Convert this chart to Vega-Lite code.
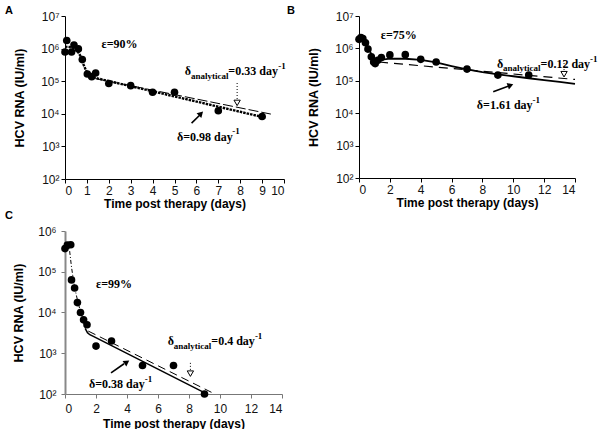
{
  "$schema": "https://vega.github.io/schema/vega-lite/v6.json",
  "padding": {"left": 5, "top": 5, "right": 0, "bottom": 0},
  "background": "white",
  "config": {
    "view": {"stroke": null},
    "axis": {"domainColor": "black", "tickColor": "black", "labelColor": "#111", "titleColor": "black", "labelFont": "Liberation Sans", "titleFont": "Liberation Sans", "grid": false, "labelFontSize": 12, "titleFontSize": 12, "titleFontWeight": "bold", "tickSize": 4, "labelPadding": 2},
    "title": {"font": "Liberation Sans", "fontSize": 11, "fontWeight": "bold", "anchor": "start", "frame": "group", "offset": 0, "color": "black"}
  },
  "datasets": {
    "obs": [
      {"panel": "A", "day": 0, "rna": 790000}, {"panel": "A", "day": 0.08, "rna": 1780000}, {"panel": "A", "day": 0.3, "rna": 790000}, {"panel": "A", "day": 0.41, "rna": 1280000}, {"panel": "A", "day": 0.61, "rna": 980000}, {"panel": "A", "day": 0.79, "rna": 460000}, {"panel": "A", "day": 1.02, "rna": 166000}, {"panel": "A", "day": 1.22, "rna": 138000}, {"panel": "A", "day": 1.4, "rna": 178000}, {"panel": "A", "day": 2, "rna": 85000}, {"panel": "A", "day": 3, "rna": 73000}, {"panel": "A", "day": 4, "rna": 46000}, {"panel": "A", "day": 5, "rna": 46000}, {"panel": "A", "day": 7, "rna": 12400}, {"panel": "A", "day": 9, "rna": 8300},
      {"panel": "B", "day": 0, "rna": 1900000}, {"panel": "B", "day": 0.12, "rna": 2150000}, {"panel": "B", "day": 0.25, "rna": 2000000}, {"panel": "B", "day": 0.42, "rna": 1500000}, {"panel": "B", "day": 0.58, "rna": 950000}, {"panel": "B", "day": 0.8, "rna": 550000}, {"panel": "B", "day": 0.95, "rna": 380000}, {"panel": "B", "day": 1.05, "rna": 340000}, {"panel": "B", "day": 1.22, "rna": 430000}, {"panel": "B", "day": 1.45, "rna": 520000}, {"panel": "B", "day": 2, "rna": 630000}, {"panel": "B", "day": 3, "rna": 640000}, {"panel": "B", "day": 4, "rna": 460000}, {"panel": "B", "day": 5, "rna": 380000}, {"panel": "B", "day": 7, "rna": 230000}, {"panel": "B", "day": 9, "rna": 150000}, {"panel": "B", "day": 11, "rna": 150000},
      {"panel": "C", "day": 0, "rna": 370000}, {"panel": "C", "day": 0.15, "rna": 450000}, {"panel": "C", "day": 0.37, "rna": 460000}, {"panel": "C", "day": 0.42, "rna": 63000}, {"panel": "C", "day": 0.62, "rna": 40000}, {"panel": "C", "day": 0.8, "rna": 17500}, {"panel": "C", "day": 1.0, "rna": 10000}, {"panel": "C", "day": 1.2, "rna": 6600}, {"panel": "C", "day": 1.42, "rna": 5000}, {"panel": "C", "day": 2, "rna": 1500}, {"panel": "C", "day": 3, "rna": 2000}, {"panel": "C", "day": 5, "rna": 500}, {"panel": "C", "day": 7, "rna": 500}, {"panel": "C", "day": 9, "rna": 100}
    ],
    "fit": [
      {"panel": "A", "curve": "model", "day": 0, "rna": 1150000}, {"panel": "A", "curve": "model", "day": 0.2, "rna": 1120000}, {"panel": "A", "curve": "model", "day": 0.4, "rna": 1050000}, {"panel": "A", "curve": "model", "day": 0.55, "rna": 900000}, {"panel": "A", "curve": "model", "day": 0.7, "rna": 600000}, {"panel": "A", "curve": "model", "day": 0.85, "rna": 320000}, {"panel": "A", "curve": "model", "day": 1.0, "rna": 185000}, {"panel": "A", "curve": "model", "day": 1.15, "rna": 145000}, {"panel": "A", "curve": "model", "day": 1.3, "rna": 130000}, {"panel": "A", "curve": "model", "day": 9.15, "rna": 7600},
      {"panel": "A", "curve": "analytical", "day": 1.4, "rna": 120000}, {"panel": "A", "curve": "analytical", "day": 9.4, "rna": 9800},
      {"panel": "B", "curve": "model", "day": 0, "rna": 2100000}, {"panel": "B", "curve": "model", "day": 0.2, "rna": 2050000}, {"panel": "B", "curve": "model", "day": 0.4, "rna": 1700000}, {"panel": "B", "curve": "model", "day": 0.6, "rna": 1100000}, {"panel": "B", "curve": "model", "day": 0.8, "rna": 650000}, {"panel": "B", "curve": "model", "day": 1.0, "rna": 450000}, {"panel": "B", "curve": "model", "day": 1.2, "rna": 420000}, {"panel": "B", "curve": "model", "day": 1.5, "rna": 450000}, {"panel": "B", "curve": "model", "day": 2, "rna": 480000}, {"panel": "B", "curve": "model", "day": 3, "rna": 480000}, {"panel": "B", "curve": "model", "day": 4, "rna": 440000}, {"panel": "B", "curve": "model", "day": 5, "rna": 370000}, {"panel": "B", "curve": "model", "day": 6, "rna": 285000}, {"panel": "B", "curve": "model", "day": 7, "rna": 225000}, {"panel": "B", "curve": "model", "day": 8, "rna": 185000}, {"panel": "B", "curve": "model", "day": 9, "rna": 158000}, {"panel": "B", "curve": "model", "day": 10, "rna": 138000}, {"panel": "B", "curve": "model", "day": 11, "rna": 120000}, {"panel": "B", "curve": "model", "day": 12, "rna": 105000}, {"panel": "B", "curve": "model", "day": 13, "rna": 92000}, {"panel": "B", "curve": "model", "day": 14, "rna": 80000},
      {"panel": "B", "curve": "analytical", "day": 1.3, "rna": 380000}, {"panel": "B", "curve": "analytical", "day": 14, "rna": 110000},
      {"panel": "C", "curve": "early", "day": 0, "rna": 460000}, {"panel": "C", "curve": "early", "day": 0.15, "rna": 460000}, {"panel": "C", "curve": "early", "day": 0.3, "rna": 320000}, {"panel": "C", "curve": "early", "day": 0.42, "rna": 130000}, {"panel": "C", "curve": "early", "day": 0.55, "rna": 60000}, {"panel": "C", "curve": "early", "day": 0.7, "rna": 30000}, {"panel": "C", "curve": "early", "day": 0.85, "rna": 17000}, {"panel": "C", "curve": "early", "day": 1.0, "rna": 10500}, {"panel": "C", "curve": "early", "day": 1.15, "rna": 7000}, {"panel": "C", "curve": "early", "day": 1.3, "rna": 4400},
      {"panel": "C", "curve": "model", "day": 1.3, "rna": 4100}, {"panel": "C", "curve": "model", "day": 1.45, "rna": 3200}, {"panel": "C", "curve": "model", "day": 1.6, "rna": 2850}, {"panel": "C", "curve": "model", "day": 1.83, "rna": 2600}, {"panel": "C", "curve": "model", "day": 9.05, "rna": 105},
      {"panel": "C", "curve": "analytical", "day": 1.5, "rna": 3500}, {"panel": "C", "curve": "analytical", "day": 9.45, "rna": 110}
    ],
    "notes": [
      {"panel": "A", "part": "main", "day": 1.67, "rna": 1340000, "text": "ε=90%"},
      {"panel": "A", "part": "main", "day": 5.47, "rna": 202000, "text": "δ"},
      {"panel": "A", "part": "sub", "day": 5.75, "rna": 147000, "text": "analytical"},
      {"panel": "A", "part": "main", "day": 7.46, "rna": 202000, "text": "=0.33 day"},
      {"panel": "A", "part": "sup", "day": 9.74, "rna": 288000, "text": "-1"},
      {"panel": "A", "part": "main", "day": 5.11, "rna": 2000, "text": "δ=0.98 day"},
      {"panel": "A", "part": "sup", "day": 7.64, "rna": 2870, "text": "-1"},
      {"panel": "B", "part": "main", "day": 1.41, "rna": 2670000, "text": "ε=75%"},
      {"panel": "B", "part": "main", "day": 8.94, "rna": 330000, "text": "δ"},
      {"panel": "B", "part": "sub", "day": 9.33, "rna": 240000, "text": "analytical"},
      {"panel": "B", "part": "main", "day": 11.77, "rna": 330000, "text": "=0.12 day"},
      {"panel": "B", "part": "sup", "day": 14.98, "rna": 470000, "text": "-1"},
      {"panel": "B", "part": "main", "day": 7.64, "rna": 17400, "text": "δ=1.61 day"},
      {"panel": "B", "part": "sup", "day": 11.25, "rna": 24800, "text": "-1"},
      {"panel": "C", "part": "main", "day": 2.0, "rna": 50700, "text": "ε=99%"},
      {"panel": "C", "part": "main", "day": 6.63, "rna": 1980, "text": "δ"},
      {"panel": "C", "part": "sub", "day": 7.02, "rna": 1540, "text": "analytical"},
      {"panel": "C", "part": "main", "day": 9.44, "rna": 1980, "text": "=0.4 day"},
      {"panel": "C", "part": "sup", "day": 12.25, "rna": 2630, "text": "-1"},
      {"panel": "C", "part": "main", "day": 1.55, "rna": 174, "text": "δ=0.38 day"},
      {"panel": "C", "part": "sup", "day": 5.14, "rna": 231, "text": "-1"}
    ],
    "shafts": [
      {"panel": "A", "kind": "solid", "day": 5.78, "rna": 5160, "day2": 6.16, "rna2": 9200},
      {"panel": "A", "kind": "open", "day": 7.86, "rna": 88000, "day2": 7.86, "rna2": 27700},
      {"panel": "B", "kind": "solid", "day": 8.7, "rna": 46300, "day2": 9.66, "rna2": 68000},
      {"panel": "B", "kind": "open", "day": 13.29, "rna": 437000, "day2": 13.29, "rna2": 213000},
      {"panel": "C", "kind": "solid", "day": 2.97, "rna": 330, "day2": 3.81, "rna2": 552},
      {"panel": "C", "kind": "open", "day": 8.09, "rna": 581, "day2": 8.09, "rna2": 385}
    ],
    "heads": [
      {"panel": "A", "kind": "solid", "day": 6.21, "rna": 10200},
      {"panel": "A", "kind": "open", "day": 7.86, "rna": 21600},
      {"panel": "B", "kind": "solid", "day": 9.82, "rna": 72800},
      {"panel": "B", "kind": "open", "day": 13.29, "rna": 160000},
      {"panel": "C", "kind": "solid", "day": 3.99, "rna": 604},
      {"panel": "C", "kind": "open", "day": 8.09, "rna": 316}
    ]
  },
  "columns": 2,
  "bounds": "flush",
  "spacing": {"column": 75, "row": 52},
  "concat": [
    {
      "title": {"text": "A", "dx": -60, "offset": -6},
      "width": 219, "height": 163,
      "encoding": {
        "x": {"field": "day", "type": "quantitative", "scale": {"domain": [0, 10], "nice": false}, "axis": {"values": [0,1,2,3,4,5,6,7,8,9,10], "title": "Time post therapy (days)", "titlePadding": 2}},
        "y": {"field": "rna", "type": "quantitative", "scale": {"type": "log", "domain": [100, 10000000], "nice": false}, "axis": {"values": [100,1000,10000,100000,1000000,10000000], "labelExpr": "'10' + ['⁰','¹','²','³','⁴','⁵','⁶','⁷'][round(log(datum.value)/LN10)]", "title": "HCV RNA (IU/ml)", "titleFontSize": 12.5, "titlePadding": 14}}
      },
      "layer": [
        {"data": {"name": "fit"}, "transform": [{"filter": "datum.panel == 'A' && datum.curve == 'model'"}], "mark": {"type": "line", "color": "black", "strokeWidth": 2.4, "strokeDash": [2.5, 1]}},
        {"data": {"name": "fit"}, "transform": [{"filter": "datum.panel == 'A' && datum.curve == 'analytical'"}], "mark": {"type": "line", "color": "black", "strokeWidth": 1, "strokeDash": [10, 3]}},
        {"data": {"name": "shafts"}, "transform": [{"filter": "datum.panel == 'A' && datum.kind == 'solid'"}], "mark": {"type": "rule", "color": "black", "strokeWidth": 1.6}, "encoding": {"x2": {"field": "day2"}, "y2": {"field": "rna2"}}},
        {"data": {"name": "shafts"}, "transform": [{"filter": "datum.panel == 'A' && datum.kind == 'open'"}], "mark": {"type": "rule", "color": "black", "strokeWidth": 1, "strokeDash": [1, 2]}, "encoding": {"x2": {"field": "day2"}, "y2": {"field": "rna2"}}},
        {"data": {"name": "heads"}, "transform": [{"filter": "datum.panel == 'A' && datum.kind == 'solid'"}], "mark": {"type": "point", "shape": "triangle-up", "angle": 45, "filled": true, "color": "black", "size": 45, "opacity": 1}},
        {"data": {"name": "heads"}, "transform": [{"filter": "datum.panel == 'A' && datum.kind == 'open'"}], "mark": {"type": "point", "shape": "triangle-down", "filled": true, "fill": "white", "stroke": "black", "strokeWidth": 1, "size": 40, "opacity": 1}},
        {"data": {"name": "obs"}, "transform": [{"filter": "datum.panel == 'A'"}], "mark": {"type": "circle", "color": "black", "size": 58, "opacity": 1}},
        {"data": {"name": "notes"}, "transform": [{"filter": "datum.panel == 'A' && datum.part == 'main'"}], "mark": {"type": "text", "align": "left", "baseline": "middle", "font": "Liberation Serif", "fontWeight": "bold", "fontSize": 12, "color": "black"}, "encoding": {"text": {"field": "text"}}},
        {"data": {"name": "notes"}, "transform": [{"filter": "datum.panel == 'A' && datum.part == 'sub'"}], "mark": {"type": "text", "align": "left", "baseline": "middle", "font": "Liberation Serif", "fontWeight": "bold", "fontSize": 9, "color": "black"}, "encoding": {"text": {"field": "text"}}},
        {"data": {"name": "notes"}, "transform": [{"filter": "datum.panel == 'A' && datum.part == 'sup'"}], "mark": {"type": "text", "align": "left", "baseline": "middle", "font": "Liberation Serif", "fontWeight": "bold", "fontSize": 9, "color": "black"}, "encoding": {"text": {"field": "text"}}}
      ]
    },
    {
      "title": {"text": "B", "dx": -72, "offset": -6},
      "width": 216, "height": 162,
      "encoding": {
        "x": {"field": "day", "type": "quantitative", "scale": {"domain": [0, 14], "nice": false}, "axis": {"values": [0,2,4,6,8,10,12,14], "title": "Time post therapy (days)", "titlePadding": 2}},
        "y": {"field": "rna", "type": "quantitative", "scale": {"type": "log", "domain": [100, 10000000], "nice": false}, "axis": {"values": [100,1000,10000,100000,1000000,10000000], "labelExpr": "'10' + ['⁰','¹','²','³','⁴','⁵','⁶','⁷'][round(log(datum.value)/LN10)]", "title": "HCV RNA (IU/ml)", "titleFontSize": 12.5, "titlePadding": 14}}
      },
      "layer": [
        {"data": {"name": "fit"}, "transform": [{"filter": "datum.panel == 'B' && datum.curve == 'model'"}], "mark": {"type": "line", "color": "black", "strokeWidth": 1.8}},
        {"data": {"name": "fit"}, "transform": [{"filter": "datum.panel == 'B' && datum.curve == 'analytical'"}], "mark": {"type": "line", "color": "black", "strokeWidth": 1.2, "strokeDash": [9, 6]}},
        {"data": {"name": "shafts"}, "transform": [{"filter": "datum.panel == 'B' && datum.kind == 'solid'"}], "mark": {"type": "rule", "color": "black", "strokeWidth": 1.6}, "encoding": {"x2": {"field": "day2"}, "y2": {"field": "rna2"}}},
        {"data": {"name": "shafts"}, "transform": [{"filter": "datum.panel == 'B' && datum.kind == 'open'"}], "mark": {"type": "rule", "color": "black", "strokeWidth": 1, "strokeDash": [1, 2]}, "encoding": {"x2": {"field": "day2"}, "y2": {"field": "rna2"}}},
        {"data": {"name": "heads"}, "transform": [{"filter": "datum.panel == 'B' && datum.kind == 'solid'"}], "mark": {"type": "point", "shape": "triangle-up", "angle": 70, "filled": true, "color": "black", "size": 45, "opacity": 1}},
        {"data": {"name": "heads"}, "transform": [{"filter": "datum.panel == 'B' && datum.kind == 'open'"}], "mark": {"type": "point", "shape": "triangle-down", "filled": true, "fill": "white", "stroke": "black", "strokeWidth": 1, "size": 40, "opacity": 1}},
        {"data": {"name": "obs"}, "transform": [{"filter": "datum.panel == 'B'"}], "mark": {"type": "circle", "color": "black", "size": 58, "opacity": 1}},
        {"data": {"name": "notes"}, "transform": [{"filter": "datum.panel == 'B' && datum.part == 'main'"}], "mark": {"type": "text", "align": "left", "baseline": "middle", "font": "Liberation Serif", "fontWeight": "bold", "fontSize": 12, "color": "black"}, "encoding": {"text": {"field": "text"}}},
        {"data": {"name": "notes"}, "transform": [{"filter": "datum.panel == 'B' && datum.part == 'sub'"}], "mark": {"type": "text", "align": "left", "baseline": "middle", "font": "Liberation Serif", "fontWeight": "bold", "fontSize": 9, "color": "black"}, "encoding": {"text": {"field": "text"}}},
        {"data": {"name": "notes"}, "transform": [{"filter": "datum.panel == 'B' && datum.part == 'sup'"}], "mark": {"type": "text", "align": "left", "baseline": "middle", "font": "Liberation Serif", "fontWeight": "bold", "fontSize": 9, "color": "black"}, "encoding": {"text": {"field": "text"}}}
      ]
    },
    {
      "title": {"text": "C", "dx": -60, "offset": 4},
      "width": 217, "height": 163,
      "encoding": {
        "x": {"field": "day", "type": "quantitative", "scale": {"domain": [0, 14], "nice": false}, "axis": {"values": [0,2,4,6,8,10,12,14], "title": "Time post therapy (days)", "titlePadding": 4, "labelPadding": 5, "domainColor": "#777", "tickColor": "#777"}},
        "y": {"field": "rna", "type": "quantitative", "scale": {"type": "log", "domain": [100, 1000000], "nice": false}, "axis": {"values": [100,1000,10000,100000,1000000], "labelExpr": "'10' + ['⁰','¹','²','³','⁴','⁵','⁶','⁷'][round(log(datum.value)/LN10)]", "title": "HCV RNA (IU/ml)", "titleFontSize": 12.5, "titlePadding": 12, "domainColor": "#888", "domainWidth": 2, "tickColor": "#777", "labelPadding": 5}}
      },
      "layer": [
        {"data": {"name": "fit"}, "transform": [{"filter": "datum.panel == 'C' && datum.curve == 'early'"}], "mark": {"type": "line", "color": "black", "strokeWidth": 1, "strokeDash": [4, 2, 1, 2]}},
        {"data": {"name": "fit"}, "transform": [{"filter": "datum.panel == 'C' && datum.curve == 'model'"}], "mark": {"type": "line", "color": "black", "strokeWidth": 1.5}},
        {"data": {"name": "fit"}, "transform": [{"filter": "datum.panel == 'C' && datum.curve == 'analytical'"}], "mark": {"type": "line", "color": "black", "strokeWidth": 1, "strokeDash": [8, 5]}},
        {"data": {"name": "shafts"}, "transform": [{"filter": "datum.panel == 'C' && datum.kind == 'solid'"}], "mark": {"type": "rule", "color": "black", "strokeWidth": 1.6}, "encoding": {"x2": {"field": "day2"}, "y2": {"field": "rna2"}}},
        {"data": {"name": "shafts"}, "transform": [{"filter": "datum.panel == 'C' && datum.kind == 'open'"}], "mark": {"type": "rule", "color": "black", "strokeWidth": 1, "strokeDash": [1, 2]}, "encoding": {"x2": {"field": "day2"}, "y2": {"field": "rna2"}}},
        {"data": {"name": "heads"}, "transform": [{"filter": "datum.panel == 'C' && datum.kind == 'solid'"}], "mark": {"type": "point", "shape": "triangle-up", "angle": 56, "filled": true, "color": "black", "size": 45, "opacity": 1}},
        {"data": {"name": "heads"}, "transform": [{"filter": "datum.panel == 'C' && datum.kind == 'open'"}], "mark": {"type": "point", "shape": "triangle-down", "filled": true, "fill": "white", "stroke": "black", "strokeWidth": 1, "size": 40, "opacity": 1}},
        {"data": {"name": "obs"}, "transform": [{"filter": "datum.panel == 'C'"}], "mark": {"type": "circle", "color": "black", "size": 58, "opacity": 1}},
        {"data": {"name": "notes"}, "transform": [{"filter": "datum.panel == 'C' && datum.part == 'main'"}], "mark": {"type": "text", "align": "left", "baseline": "middle", "font": "Liberation Serif", "fontWeight": "bold", "fontSize": 12, "color": "black"}, "encoding": {"text": {"field": "text"}}},
        {"data": {"name": "notes"}, "transform": [{"filter": "datum.panel == 'C' && datum.part == 'sub'"}], "mark": {"type": "text", "align": "left", "baseline": "middle", "font": "Liberation Serif", "fontWeight": "bold", "fontSize": 9, "color": "black"}, "encoding": {"text": {"field": "text"}}},
        {"data": {"name": "notes"}, "transform": [{"filter": "datum.panel == 'C' && datum.part == 'sup'"}], "mark": {"type": "text", "align": "left", "baseline": "middle", "font": "Liberation Serif", "fontWeight": "bold", "fontSize": 9, "color": "black"}, "encoding": {"text": {"field": "text"}}}
      ]
    }
  ]
}
